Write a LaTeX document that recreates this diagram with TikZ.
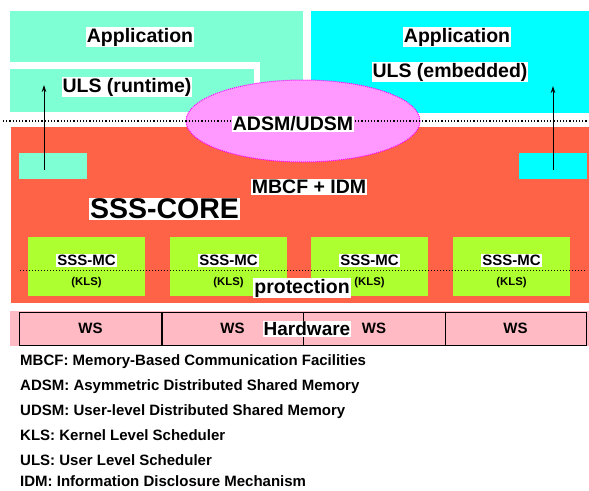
\documentclass[tikz,border=0pt]{standalone}
\usepackage{fontspec}
\setmainfont{Liberation Sans}
\usetikzlibrary{arrows.meta,shapes.geometric}
\definecolor{aquam}{HTML}{7FFFD4}
\definecolor{cyanc}{HTML}{00FFFF}
\definecolor{tomatoc}{HTML}{FF6347}
\definecolor{violc}{HTML}{FF99FF}
\definecolor{magc}{HTML}{FF00FF}
\definecolor{ygreen}{HTML}{ADFF2F}
\definecolor{pinkc}{HTML}{FFBAC4}
\begin{document}
\begin{tikzpicture}[x=1pt,y=-1pt,
  lbl/.style={fill=white, inner sep=1pt, font=\bfseries\fontsize{19.5}{20}\selectfont},
  biglbl/.style={fill=white, inner sep=1pt, font=\bfseries\fontsize{28.5}{30}\selectfont},
  mclbl/.style={fill=white, inner sep=1pt, font=\bfseries\fontsize{15}{16}\selectfont},
  klslbl/.style={inner sep=0pt, font=\bfseries\fontsize{11.3}{12}\selectfont},
  wslbl/.style={inner sep=0pt, font=\bfseries\fontsize{15}{16}\selectfont},
  hwlbl/.style={fill=white, inner sep=1pt, font=\bfseries\fontsize{19}{20}\selectfont},
  legend/.style={anchor=base west, inner sep=0pt, font=\bfseries\fontsize{15}{16}\selectfont},
  smallbox/.style={draw=none, minimum width=68pt, minimum height=26pt, inner sep=0pt},
  mcbox/.style={fill=ygreen, draw=none, minimum width=117pt, minimum height=59pt, inner sep=0pt},
  wsbox/.style={draw=black, line width=1pt, fill=pinkc, minimum width=142pt, minimum height=33pt, inner sep=0pt},
  uparrow/.style={draw=black, line width=0.9pt, -{Stealth[length=7pt,width=4.5pt]}},
  dotline/.style={draw=black, line width=1.2pt, dotted}
]
\useasboundingbox (0,0) rectangle (589,490);

% application / ULS regions
\fill[aquam] (10,11) rectangle (303,62);
\fill[aquam] (260,11) rectangle (303,113);
\fill[aquam] (10,69) rectangle (254,112);
\fill[cyanc] (311,11) rectangle (589,113);

% core
\fill[tomatoc] (11,127) rectangle (589,303);

% ADSM/UDSM ellipse
\node[ellipse, draw=magc, line width=1pt, densely dotted, fill=violc,
      minimum width=234pt, minimum height=82pt, inner sep=0pt] (adsmell) at (303,121) {};

% top dotted separator
\coordinate (sepL) at (3,121);
\coordinate (sepR) at (589,121);
\draw[dotline] (sepL) -- (sepR);

% labels upper
\node[lbl] (app1) at (140,37) {Application};
\node[lbl] (uls1) at (127,87) {ULS (runtime)};
\node[lbl] (app2) at (457,37) {Application};
\node[lbl] (uls2) at (450,72) {ULS (embedded)};
\node[lbl] (adsm) at (293,124) {ADSM/UDSM};

% small boxes and arrows
\node[smallbox, fill=aquam] (lbox) at (53,166) {};
\node[smallbox, fill=cyanc] (rbox) at (553,166) {};
\coordinate (lfrom) at (44,170);
\coordinate (lto) at (44,85);
\coordinate (rfrom) at (553,170);
\coordinate (rto) at (553,86);
\draw[uparrow] (lfrom) -- (lto);
\draw[uparrow] (rfrom) -- (rto);

\node[lbl] (mbcf) at (309,187) {MBCF + IDM};
\node[biglbl] (core) at (164.5,209) {SSS-CORE};

% SSS-MC boxes
\node[mcbox] (mc1) at (86.5,266.5) {};
\node[mcbox] (mc2) at (228.5,266.5) {};
\node[mcbox] (mc3) at (369.5,266.5) {};
\node[mcbox] (mc4) at (511.5,266.5) {};

\coordinate (pL) at (20,270);
\coordinate (pR) at (586,270);
\draw[black, line width=1pt, dotted] (pL) -- (pR);

\foreach \n/\x in {1/86.5,2/228.5,3/369.5,4/511.5}{
  \node[mclbl] (mct\n) at (\x,260.5) {SSS-MC};
  \node[klslbl] (kls\n) at (\x,283) {(KLS)};
}
\node[lbl] (prot) at (302,288) {protection};

% hardware
\fill[pinkc] (10,311) rectangle (589,346);
\node[wsbox] (ws1) at (90.5,328.5) {};
\node[wsbox, minimum width=141pt] (ws2) at (232.5,328.5) {};
\node[wsbox] (ws3) at (374,328.5) {};
\node[wsbox, minimum width=141pt] (ws4) at (515.5,328.5) {};
\foreach \n in {1,2,3,4}{
  \node[wslbl] at (ws\n.center) {WS};
}
\node[hwlbl] (hw) at (307,329) {Hardware};

% legend
\node[legend] (l1) at (20,365) {MBCF: Memory-Based Communication Facilities};
\node[legend] (l2) at (20,390) {ADSM: Asymmetric Distributed Shared Memory};
\node[legend] (l3) at (20,415) {UDSM: User-level Distributed Shared Memory};
\node[legend] (l4) at (20,440) {KLS: Kernel Level Scheduler};
\node[legend] (l5) at (20,465) {ULS: User Level Scheduler};
\node[legend] (l6) at (20,486) {IDM: Information Disclosure Mechanism};
\end{tikzpicture}
\end{document}
